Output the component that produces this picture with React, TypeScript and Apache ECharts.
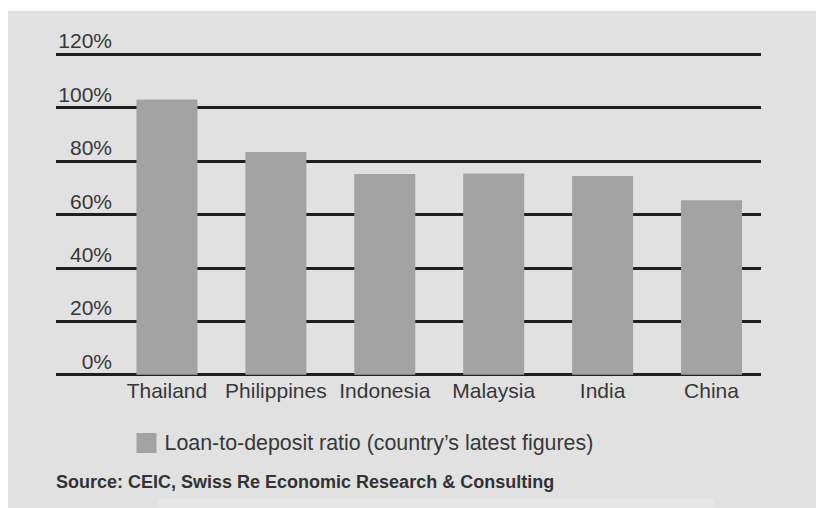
import React, { useEffect, useRef } from "react";
import * as echarts from "echarts";

const categories = ["Thailand", "Philippines", "Indonesia", "Malaysia", "India", "China"];
const ratioValues = [103.1, 83.4, 75.2, 75.4, 74.4, 65.3];
const seriesName = "Loan-to-deposit ratio (country\u2019s latest figures)";
const sourceText = "Source: CEIC, Swiss Re Economic Research & Consulting";
const yMin = 0;
const yMax = 120;
const yStep = 20;

const FONT = "'Liberation Sans', Arial, sans-serif";
const TEXT = "#383838";

export default function App() {
  const ref = useRef<HTMLDivElement>(null);
  useEffect(() => {
    if (!ref.current) return;
    const chart = echarts.init(ref.current, undefined, { renderer: "svg" });
    const top = 54.3;
    const height = 320.4;
    chart.setOption({
      animation: false,
      backgroundColor: "#ffffff",
      textStyle: { fontFamily: FONT },
      graphic: [
        {
          type: "rect",
          z: -10,
          silent: true,
          shape: { x: 8, y: 11, width: 808, height: 497 },
          style: { fill: "#e1e1e1" },
        },
        {
          type: "rect",
          z: -9,
          silent: true,
          shape: { x: 158, y: 499, width: 556, height: 9 },
          style: { fill: "#e6e6e6" },
        },
        {
          type: "text",
          left: 56,
          top: 473,
          style: {
            text: sourceText,
            fontFamily: FONT,
            fontSize: 18,
            fontWeight: "bold",
            fill: "#333333",
          },
        },
      ],
      grid: [
        { left: 112.5, width: 653.5, top, height, containLabel: false },
        { left: 56, width: 705, top, height, containLabel: false },
      ],
      legend: {
        show: true,
        data: [seriesName],
        left: 136.5,
        top: 432.5,
        padding: 0,
        itemWidth: 20,
        itemHeight: 20,
        itemGap: 10,
        icon: "rect",
        textStyle: {
          fontFamily: FONT,
          fontSize: 21.4,
          color: TEXT,
          padding: [0, 0, 0, 3],
        },
      },
      xAxis: [
        {
          type: "category",
          gridIndex: 0,
          data: categories,
          axisLine: { show: false },
          axisTick: { show: false },
          axisLabel: {
            fontFamily: FONT,
            fontSize: 21,
            color: TEXT,
            margin: 5,
            interval: 0,
          },
        },
        {
          type: "value",
          gridIndex: 1,
          show: false,
          min: 0,
          max: 1,
        },
      ],
      yAxis: [
        {
          type: "value",
          gridIndex: 0,
          min: yMin,
          max: yMax,
          interval: yStep,
          show: false,
        },
        {
          type: "value",
          gridIndex: 1,
          min: yMin,
          max: yMax,
          interval: yStep,
          axisLine: { show: false },
          axisTick: { show: false },
          splitLine: { show: true, lineStyle: { color: "#1f1f1f", width: 3 } },
          axisLabel: {
            inside: true,
            margin: 56,
            align: "right",
            verticalAlign: "bottom",
            padding: [0, 0, 3, 0],
            fontFamily: FONT,
            fontSize: 21,
            color: TEXT,
            formatter: "{value}%",
          },
        },
      ],
      series: [
        {
          name: seriesName,
          type: "bar",
          xAxisIndex: 0,
          yAxisIndex: 0,
          data: ratioValues,
          barWidth: 61,
          itemStyle: { color: "#a3a3a3" },
          z: 5,
        },
      ],
    });
    return () => chart.dispose();
  }, []);
  return (
    <div
      ref={ref}
      style={{ position: "absolute", left: 0, top: 0, width: 816, height: 508 }}
    />
  );
}
